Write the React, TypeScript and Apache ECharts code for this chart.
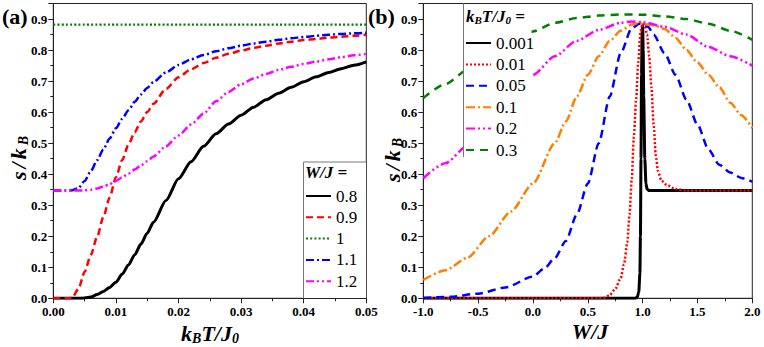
import React, { useEffect, useRef } from 'react';
import * as echarts from 'echarts';

const FONT = 'Liberation Serif';

// ---------- Panel (a): s/kB vs kBT/J0 ----------
const tValues = [0, 0.002, 0.003, 0.004, 0.005, 0.006, 0.007, 0.008, 0.009, 0.01, 0.011, 0.012, 0.013, 0.014, 0.015, 0.016, 0.018, 0.02, 0.022, 0.024, 0.026, 0.028, 0.03, 0.032, 0.034, 0.036, 0.038, 0.04, 0.042, 0.044, 0.046, 0.048, 0.05];
const sW08 = [0, 0, 0, 0, 0.001, 0.004, 0.012, 0.022, 0.035, 0.052, 0.078, 0.107, 0.14, 0.175, 0.21, 0.245, 0.315, 0.385, 0.44, 0.49, 0.53, 0.562, 0.59, 0.616, 0.64, 0.661, 0.68, 0.698, 0.714, 0.728, 0.74, 0.751, 0.762];
const sW09 = [0, 0, 0.001, 0.03, 0.085, 0.14, 0.198, 0.262, 0.325, 0.39, 0.445, 0.495, 0.535, 0.57, 0.6, 0.627, 0.675, 0.712, 0.738, 0.758, 0.775, 0.788, 0.798, 0.807, 0.814, 0.821, 0.827, 0.832, 0.836, 0.84, 0.843, 0.846, 0.849];
const sW10 = [0.882, 0.882, 0.882, 0.882, 0.882, 0.882, 0.882, 0.882, 0.882, 0.882, 0.882, 0.882, 0.882, 0.882, 0.882, 0.882, 0.882, 0.882, 0.882, 0.882, 0.882, 0.882, 0.882, 0.882, 0.882, 0.882, 0.882, 0.882, 0.882, 0.882, 0.882, 0.882, 0.882];
const sW11 = [0.347, 0.347, 0.348, 0.355, 0.378, 0.41, 0.445, 0.48, 0.515, 0.548, 0.578, 0.606, 0.633, 0.657, 0.678, 0.697, 0.728, 0.752, 0.77, 0.784, 0.796, 0.806, 0.814, 0.821, 0.827, 0.833, 0.838, 0.842, 0.846, 0.849, 0.852, 0.854, 0.856];
const sW12 = [0.347, 0.347, 0.347, 0.347, 0.348, 0.35, 0.354, 0.36, 0.368, 0.378, 0.39, 0.402, 0.415, 0.428, 0.442, 0.457, 0.49, 0.525, 0.56, 0.595, 0.635, 0.665, 0.69, 0.708, 0.723, 0.736, 0.746, 0.755, 0.763, 0.77, 0.777, 0.783, 0.788];
const legendA = ['0.8', '0.9', '1', '1.1', '1.2'];

// ---------- Panel (b): s/kB vs W/J ----------
const w0001 = [-1, 0.93, 0.95, 0.965, 0.975, 0.98, 0.985, 0.99, 0.995, 1.0, 1.005, 1.01, 1.02, 1.03, 1.04, 1.06, 2];
const s0001 = [0, 0, 0.003, 0.02, 0.08, 0.2, 0.45, 0.72, 0.86, 0.88, 0.8, 0.65, 0.45, 0.37, 0.352, 0.347, 0.347];
const w001 = [-1, 0.5, 0.6, 0.65, 0.7, 0.75, 0.8, 0.83, 0.86, 0.88, 0.9, 0.92, 0.94, 0.96, 0.98, 1.0, 1.02, 1.04, 1.06, 1.08, 1.1, 1.12, 1.14, 1.17, 1.22, 1.3, 1.4, 2];
const s001 = [0, 0, 0, 0.002, 0.01, 0.03, 0.065, 0.11, 0.18, 0.27, 0.38, 0.52, 0.64, 0.76, 0.86, 0.885, 0.88, 0.85, 0.78, 0.68, 0.56, 0.46, 0.41, 0.38, 0.365, 0.352, 0.347, 0.347];
const w005 = [-1, -0.75, -0.5, -0.25, 0, 0.1, 0.2, 0.3, 0.4, 0.5, 0.6, 0.7, 0.8, 0.9, 0.97, 1.05, 1.1, 1.2, 1.3, 1.4, 1.5, 1.6, 1.7, 1.8, 1.9, 2];
const s005 = [0.001, 0.005, 0.015, 0.035, 0.07, 0.095, 0.13, 0.185, 0.27, 0.37, 0.5, 0.65, 0.79, 0.87, 0.885, 0.875, 0.85, 0.79, 0.72, 0.64, 0.56, 0.48, 0.43, 0.405, 0.388, 0.376];
const w01 = [-1, -0.8, -0.6, -0.4, -0.2, 0, 0.2, 0.3, 0.4, 0.5, 0.6, 0.7, 0.8, 0.9, 0.95, 1.0, 1.1, 1.2, 1.3, 1.4, 1.5, 1.6, 1.7, 1.8, 1.9, 2.0];
const s01 = [0.059, 0.09, 0.13, 0.2, 0.28, 0.37, 0.5, 0.57, 0.65, 0.72, 0.78, 0.83, 0.862, 0.882, 0.886, 0.885, 0.88, 0.868, 0.84, 0.8, 0.76, 0.72, 0.68, 0.63, 0.59, 0.548];
const w02 = [-1, -0.8, -0.6, -0.4, -0.2, 0, 0.2, 0.4, 0.6, 0.8, 0.9, 1.0, 1.2, 1.4, 1.6, 1.8, 2.0];
const s02 = [0.387, 0.435, 0.49, 0.56, 0.64, 0.72, 0.78, 0.83, 0.865, 0.888, 0.892, 0.89, 0.875, 0.85, 0.81, 0.78, 0.75];
const w03 = [-1, -0.8, -0.6, -0.4, -0.2, 0, 0.2, 0.4, 0.6, 0.8, 1.0, 1.2, 1.4, 1.6, 1.8, 2.0];
const s03 = [0.645, 0.69, 0.735, 0.78, 0.826, 0.86, 0.888, 0.903, 0.911, 0.915, 0.914, 0.908, 0.9, 0.885, 0.862, 0.833];
const legendB = ['0.001', '0.01', '0.05', '0.1', '0.2', '0.3'];

const zip = (xs: number[], ys: number[]) => xs.map((x, i) => [x, ys[i]]);

const tickLabel = { fontFamily: FONT, fontWeight: 'bold' as const, fontSize: 13, color: '#000' };
const axisLineStyle = { onZero: false, lineStyle: { color: '#222', width: 1 } };

function line(name: string, data: number[][], color: string, width: number, type: any, idx: number) {
  return {
    type: 'line', name, data, xAxisIndex: idx, yAxisIndex: idx,
    symbol: 'none', showSymbol: false, smooth: 0.25, smoothMonotone: 'x',
    lineStyle: { color, width, type }, itemStyle: { color },
    clip: true,
  };
}

const titleRich = (main: number, sub: number) => ({
  m: { fontFamily: FONT, fontStyle: 'italic', fontWeight: 'bold', fontSize: main, fill: '#000' },
  g: { fontFamily: FONT, fontStyle: 'italic', fontWeight: 'bold', fontSize: main, fill: '#000', padding: [0, 3, 0, 0] },
  s: { fontFamily: FONT, fontStyle: 'italic', fontWeight: 'bold', fontSize: sub, fill: '#000', padding: [sub * 0.8, 0, 0, 0] },
});

export default function App() {
  const ref = useRef<HTMLDivElement>(null);
  useEffect(() => {
    if (!ref.current) return;
    const chart = echarts.init(ref.current, null, { renderer: 'svg' });
    const gridA = { left: 53.3, top: 3.5, width: 313, height: 294.8 };
    const gridB = { left: 423.3, top: 3.5, width: 329, height: 294.8 };
    const yAxisBase = {
      type: 'value', min: 0, max: 0.95, interval: 0.1,
      axisLine: { show: true, ...axisLineStyle },
      axisTick: { show: true, length: 5, lineStyle: { color: '#222' } },
      minorTick: { show: true, splitNumber: 2, length: 3, lineStyle: { color: '#222' } },
      splitLine: { show: false },
      axisLabel: { ...tickLabel, margin: 6, formatter: (v: number) => (v > 0.91 ? '' : v.toFixed(1)) },
    };
    const option: any = {
      animation: false,
      textStyle: { fontFamily: FONT },
      grid: [
        { ...gridA, show: true, borderColor: '#222', borderWidth: 1, backgroundColor: 'transparent' },
        { ...gridB, show: true, borderColor: '#222', borderWidth: 1, backgroundColor: 'transparent' },
      ],
      xAxis: [
        {
          type: 'value', gridIndex: 0, min: 0, max: 0.05, interval: 0.01,
          axisLine: { show: true, ...axisLineStyle },
          axisTick: { show: true, length: 5, lineStyle: { color: '#222' } },
          minorTick: { show: true, splitNumber: 2, length: 3, lineStyle: { color: '#222' } },
          splitLine: { show: false },
          axisLabel: { ...tickLabel, margin: 7, formatter: (v: number) => v.toFixed(2) },
        },
        {
          type: 'value', gridIndex: 1, min: -1, max: 2, interval: 0.5,
          axisLine: { show: true, ...axisLineStyle },
          axisTick: { show: true, length: 5, lineStyle: { color: '#222' } },
          minorTick: { show: true, splitNumber: 2, length: 3, lineStyle: { color: '#222' } },
          splitLine: { show: false },
          axisLabel: { ...tickLabel, margin: 7, formatter: (v: number) => v.toFixed(1) },
        },
      ],
      yAxis: [
        { ...yAxisBase, gridIndex: 0 },
        { ...yAxisBase, gridIndex: 1 },
      ],
      legend: [
        {
          data: legendA, orient: 'vertical', left: 305, top: 185.5, padding: 0,
          itemGap: 0.3, itemWidth: 25, itemHeight: 10,
          textStyle: { fontFamily: FONT, fontSize: 17, color: '#000', lineHeight: 21 },
          itemStyle: { opacity: 0 }, z: 6,
        },
        {
          data: legendB, orient: 'vertical', left: 465, top: 32.5, padding: 0,
          itemGap: 0.4, itemWidth: 25, itemHeight: 10,
          textStyle: { fontFamily: FONT, fontSize: 17, color: '#000', lineHeight: 21 },
          itemStyle: { opacity: 0 }, z: 6,
        },
      ],
      series: [
        line('0.8', zip(tValues, sW08), '#000000', 3, 'solid', 0),
        line('0.9', zip(tValues, sW09), '#ff0000', 2.5, [7, 4], 0),
        line('1', zip(tValues, sW10), '#008000', 2.2, [2, 2.2], 0),
        line('1.1', zip(tValues, sW11), '#0000ff', 2.5, [8, 3, 2, 3], 0),
        line('1.2', zip(tValues, sW12), '#ff00ff', 2.5, [8, 3, 2, 3, 2, 3], 0),
        line('0.001', zip(w0001, s0001), '#000000', 3, 'solid', 1),
        line('0.01', zip(w001, s001), '#ff0000', 2.5, [2, 2], 1),
        line('0.05', zip(w005, s005), '#0000ff', 2.5, [8, 5], 1),
        line('0.1', zip(w01, s01), '#ff8000', 2.5, [9, 3, 2, 3], 1),
        line('0.2', zip(w02, s02), '#ff00ff', 2.5, [9, 3, 2, 3, 2, 3], 1),
        line('0.3', zip(w03, s03), '#008000', 2.5, [8, 6], 1),
      ],
      graphic: [
        // legend boxes
        { type: 'rect', z: 5, shape: { x: 303.5, y: 162, width: 62.5, height: 136 }, style: { fill: '#fff' } },
        { type: 'line', z: 7, shape: { x1: 303.5, y1: 162, x2: 303.5, y2: 298.3 }, style: { stroke: '#777', lineWidth: 1 } },
        { type: 'line', z: 7, shape: { x1: 303.5, y1: 162, x2: 366.3, y2: 162 }, style: { stroke: '#777', lineWidth: 1 } },
        { type: 'rect', z: 5, shape: { x: 463.5, y: 4, width: 68, height: 153 }, style: { fill: '#fff' } },
        { type: 'line', z: 7, shape: { x1: 463.5, y1: 3.5, x2: 463.5, y2: 157 }, style: { stroke: '#777', lineWidth: 1 } },
        // legend headers
        {
          type: 'text', z: 8, x: 305, y: 172,
          style: { text: 'W/J =', fontFamily: FONT, fontStyle: 'italic', fontWeight: 'bold', fontSize: 17, fill: '#000', align: 'left', verticalAlign: 'middle' },
        },
        {
          type: 'text', z: 8, x: 466, y: 16,
          style: { text: '{m|k}{s|B}{m|T/J}{s|0}{m| =}', rich: titleRich(17, 11), align: 'left', verticalAlign: 'middle' },
        },
        // panel labels
        { type: 'text', z: 8, x: 2, y: 16, style: { text: '(a)', fontFamily: FONT, fontWeight: 'bold', fontSize: 22, fill: '#000', align: 'left', verticalAlign: 'middle' } },
        { type: 'text', z: 8, x: 368, y: 16, style: { text: '(b)', fontFamily: FONT, fontWeight: 'bold', fontSize: 22, fill: '#000', align: 'left', verticalAlign: 'middle' } },
        // axis titles
        {
          type: 'text', z: 8, x: 210, y: 333,
          style: { text: '{m|k}{s|B}{m|T/J}{s|0}', rich: titleRich(22, 14), align: 'center', verticalAlign: 'middle' },
        },
        {
          type: 'text', z: 8, x: 590, y: 331,
          style: { text: '{m|W/J}', rich: titleRich(22, 14), align: 'center', verticalAlign: 'middle' },
        },
        {
          type: 'text', z: 8, x: 18, y: 158, rotation: Math.PI / 2,
          style: { text: '{g|s}{g|/}{g|k}{s|B}', rich: titleRich(22, 14), align: 'center', verticalAlign: 'middle' },
        },
        {
          type: 'text', z: 8, x: 392, y: 160, rotation: Math.PI / 2,
          style: { text: '{g|s}{g|/}{g|k}{s|B}', rich: titleRich(22, 14), align: 'center', verticalAlign: 'middle' },
        },
      ],
    };
    chart.setOption(option);
    return () => chart.dispose();
  }, []);
  return <div ref={ref} style={{ position: 'fixed', left: 0, top: 0, width: 764, height: 347, background: '#fff' }} />;
}
